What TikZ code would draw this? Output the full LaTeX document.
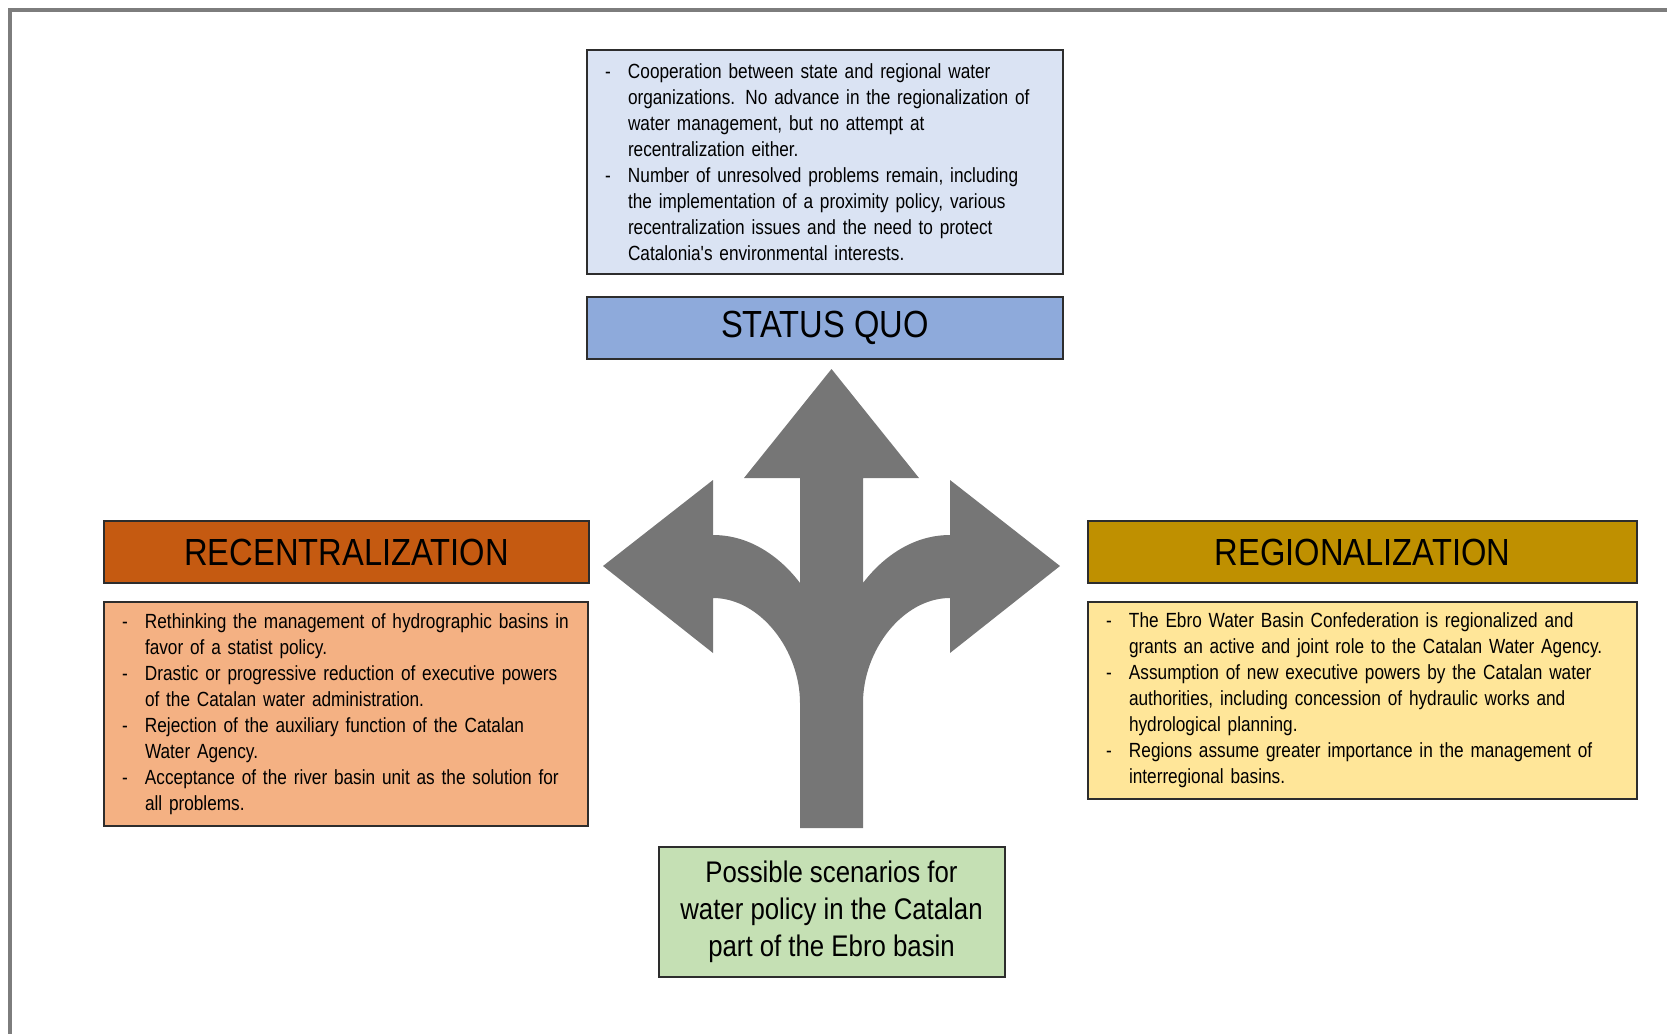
\documentclass[tikz,border=0pt]{standalone}
\usepackage{fontspec}
\setmainfont[FakeStretch=0.865]{Liberation Sans}
\newfontfamily\bodyfont[FakeStretch=0.84]{Liberation Sans}
\usetikzlibrary{positioning}

\definecolor{sqlight}{RGB}{218,227,243}
\definecolor{sqdark}{RGB}{142,170,219}
\definecolor{recdark}{RGB}{197,90,17}
\definecolor{reclight}{RGB}{244,177,131}
\definecolor{regdark}{RGB}{191,144,0}
\definecolor{reglight}{RGB}{255,230,153}
\definecolor{scengreen}{RGB}{197,224,180}
\definecolor{arrowgray}{RGB}{118,118,118}
\definecolor{framegray}{RGB}{125,125,125}
\definecolor{boxline}{RGB}{45,45,45}

\newcommand{\dashln}{\makebox[11.5pt][l]{-}}
\newcommand{\contln}{\hspace*{11.5pt}}

\begin{document}
\begin{tikzpicture}[x=0.5pt,y=-0.5pt,
  textbox/.style={draw=boxline, line width=1pt, inner xsep=9pt, inner ysep=0pt,
    align=left, font=\bodyfont\fontsize{10.25}{13}\selectfont},
  headbox/.style={draw=boxline, line width=1pt, inner sep=0pt,
    font=\fontsize{18.9}{22}\selectfont}]
\useasboundingbox (0,0) rectangle (1667,1034);

% frame
\draw[framegray, line width=1.6pt] (10,1034) -- (10,10) -- (1667,10);

% status quo
\node[textbox, fill=sqlight, text width=220pt, minimum height=112pt] (sqtext) at (825,162) {
    \dashln Cooperation between state and regional water\\
    \contln organizations.  No advance in the regionalization of\\
    \contln water management, but no attempt at\\
    \contln recentralization either.\\
    \dashln Number of unresolved problems remain, including\\
    \contln the implementation of a proximity policy, various\\
    \contln recentralization issues and the need to protect\\
    \contln Catalonia's environmental interests.
};
\node[headbox, fill=sqdark, minimum width=238pt, minimum height=31pt] (sqhead) at (825,328) {STATUS QUO};

% recentralization
\node[headbox, fill=recdark, minimum width=242.5pt, minimum height=31pt] (rechead) at (346.5,552) {RECENTRALIZATION};
\node[textbox, fill=reclight, text width=224pt, minimum height=112pt] (rectext) at (346,714) {
    \dashln Rethinking the management of hydrographic basins in\\
    \contln favor of a statist policy.\\
    \dashln Drastic or progressive reduction of executive powers\\
    \contln of the Catalan water administration.\\
    \dashln Rejection of the auxiliary function of the Catalan\\
    \contln Water Agency.\\
    \dashln Acceptance of the river basin unit as the solution for\\
    \contln all problems.
};

% regionalization
\node[headbox, fill=regdark, minimum width=274.5pt, minimum height=31pt] (reghead) at (1362.5,552) {REGIONALIZATION};
\node[textbox, fill=reglight, text width=256.5pt, minimum height=98.5pt] (regtext) at (1362.5,700.5) {
    \dashln The Ebro Water Basin Confederation is regionalized and\\
    \contln grants an active and joint role to the Catalan Water Agency.\\
    \dashln Assumption of new executive powers by the Catalan water\\
    \contln authorities, including concession of hydraulic works and\\
    \contln hydrological planning.\\
    \dashln Regions assume greater importance in the management of\\
    \contln interregional basins.
};

% scenarios
\node[draw=boxline, line width=1pt, fill=scengreen, minimum width=173pt, minimum height=65pt,
  align=center, font=\fontsize{14.9}{18.5}\selectfont] (scen) at (831.5,911.5)
  {Possible scenarios for\\water policy in the Catalan\\part of the Ebro basin};

% three-way arrow
\fill[arrowgray] (800,828) -- (800,703) .. controls (800,650) and (760,598) .. (713,598)
  -- (713,653) -- (603,566) -- (713,480) -- (713,535)
  .. controls (755,535) and (785,563) .. (800,583)
  -- (800,478) -- (744,478) -- (831.5,369) -- (919,478) -- (863,478) -- (863,583)
  .. controls (878,563) and (908,535) .. (950,535)
  -- (950,480) -- (1060,566) -- (950,653) -- (950,598)
  .. controls (903,598) and (863,650) .. (863,703) -- (863,828) -- cycle;
\end{tikzpicture}
\end{document}
